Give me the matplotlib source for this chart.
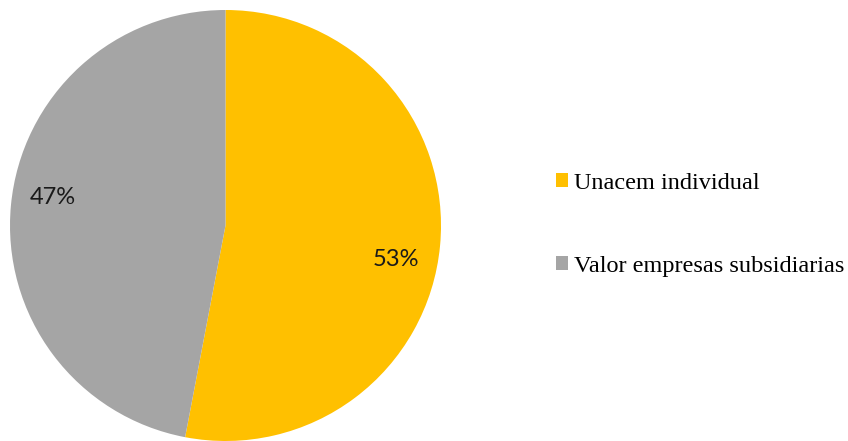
import matplotlib.pyplot as plt
from matplotlib.patches import Patch

labels = ['Unacem individual', 'Valor empresas subsidiarias']
values = [53, 47]
colors = ['#FFC000', '#A5A5A5']
# label positions, in pie radius units (Excel "best fit")
label_pos = [(0.79, -0.16), (-0.80, 0.13)]

fig = plt.figure(figsize=(8.48, 4.41), dpi=100)
ax = fig.add_axes([10 / 848, 0.0, 431 / 848, 431 / 441])
wedges, _ = ax.pie(values, colors=colors, startangle=90, counterclock=False,
                   radius=1.0, wedgeprops={'linewidth': 0})
ax.set_xlim(-1, 1)
ax.set_ylim(-1, 1)
ax.set_aspect('equal')

for v, (x, y) in zip(values, label_pos):
    ax.text(x, y, f'{v}%', ha='center', va='center', fontsize=17,
            family='Lato', color='#1A1A1A')

handles = [Patch(facecolor=c, edgecolor='none') for c in colors]
fig.legend(handles, labels, loc='center left', bbox_to_anchor=(556 / 848, 0.49),
           frameon=False, prop={'family': 'Liberation Serif', 'size': 17.5},
           handlelength=0.5, handleheight=0.5, handletextpad=0.25,
           labelspacing=2.55, borderaxespad=0, borderpad=0)

fig.savefig('out.png', dpi=100)
